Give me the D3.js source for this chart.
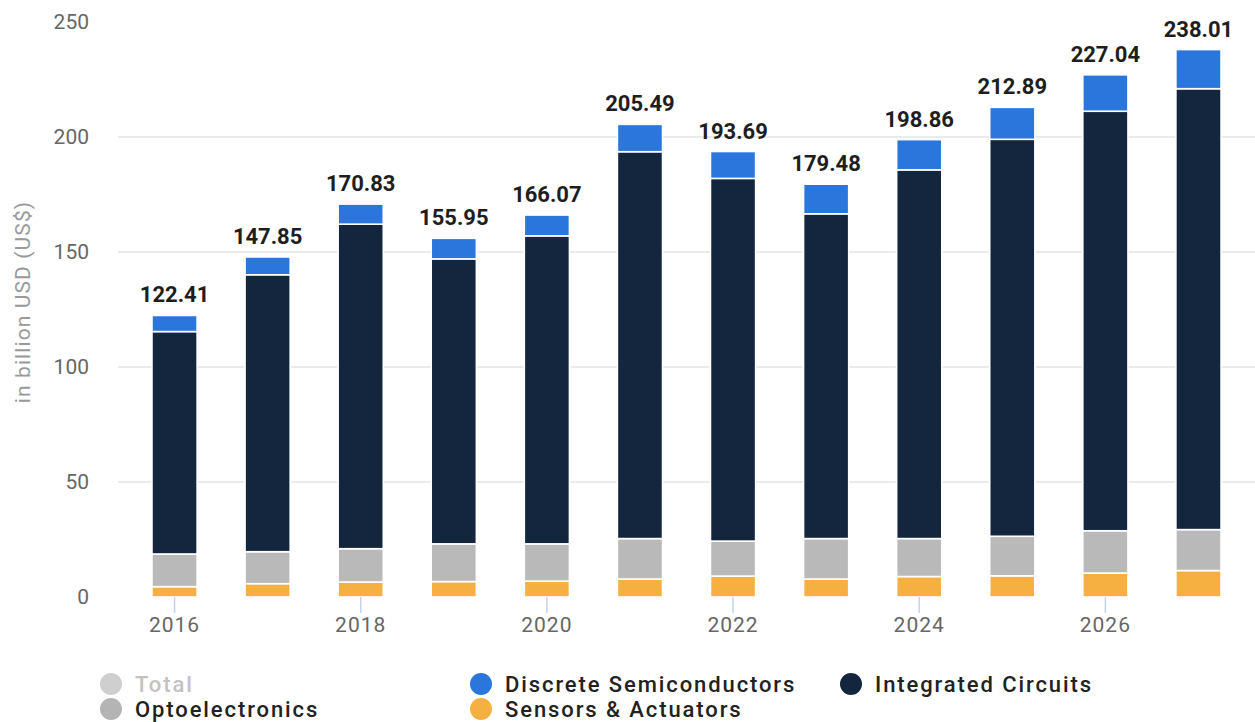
<!DOCTYPE html>
<html>
<head>
<meta charset="utf-8">
<script src="https://cdn.jsdelivr.net/npm/d3@7/dist/d3.min.js"></script>
<style>
  html, body { margin: 0; padding: 0; background: #ffffff; }
  svg { display: block; font-family: Roboto, "Open Sans", sans-serif; }
</style>
</head>
<body>
<svg id="chart" width="1255" height="722"></svg>
<script>
// Semiconductor revenue by segment, in billion USD
const years = ["2016","2017","2018","2019","2020","2021","2022","2023","2024","2025","2026","2027"];
const sensorsActuators = [4.5, 5.8, 6.5, 6.7, 6.9, 7.8, 9.1, 7.8, 8.9, 9.2, 10.4, 11.5];
const optoelectronics  = [14.2, 13.9, 14.5, 16.4, 16.2, 17.6, 15.2, 17.6, 16.5, 17.2, 18.4, 17.8];
const integratedCircuits = [96.7, 120.4, 141.1, 123.9, 133.9, 168.2, 157.7, 141.2, 160.3, 172.6, 182.4, 191.7];
const discreteSemis    = [7.01, 7.75, 8.73, 8.95, 9.07, 11.89, 11.69, 12.88, 13.16, 13.89, 15.84, 17.01];
const totals = [122.41, 147.85, 170.83, 155.95, 166.07, 205.49, 193.69, 179.48, 198.86, 212.89, 227.04, 238.01];
const yTicks = [0, 50, 100, 150, 200, 250];
const xTickLabels = ["2016","2018","2020","2022","2024","2026"];

const seriesKeys = ["sensors", "opto", "ic", "discrete"];
const colors = { sensors: "#f5b041", opto: "#b9b9b9", ic: "#13263d", discrete: "#2a76dc" };

const rows = years.map((yr, i) => ({
  year: yr,
  sensors: sensorsActuators[i],
  opto: optoelectronics[i],
  ic: integratedCircuits[i],
  discrete: discreteSemis[i],
  total: totals[i]
}));

const svg = d3.select("#chart");

const x = d3.scaleBand().domain(years).range([128, 1245]).paddingInner(0.515).paddingOuter(0.2575);
const y = d3.scaleLinear().domain([0, 250]).range([597, 22]);

// horizontal gridlines
svg.append("g").selectAll("line")
  .data(yTicks.filter(t => t > 0 && t < 250))
  .join("line")
  .attr("x1", 118).attr("x2", 1255)
  .attr("y1", d => y(d)).attr("y2", d => y(d))
  .attr("stroke", "#e4e4e4").attr("stroke-width", 1.3);

// y axis labels
const yAxis = d3.axisLeft(y).tickValues(yTicks).tickSize(0).tickPadding(0);
const gy = svg.append("g").attr("transform", "translate(89,0)").call(yAxis);
gy.select(".domain").remove();
gy.selectAll("text")
  .attr("fill", "#666").attr("font-size", 21)
  .attr("font-family", "Roboto, sans-serif");

// y axis title
svg.append("text")
  .attr("transform", "translate(30,302) rotate(-90)")
  .attr("text-anchor", "middle")
  .attr("fill", "#999")
  .attr("font-size", 21)
  .attr("letter-spacing", 1.1)
  .text("in billion USD (US$)");

// stacked bars
const stacked = d3.stack().keys(seriesKeys)(rows);
svg.append("g").selectAll("g")
  .data(stacked)
  .join("g")
  .attr("fill", d => colors[d.key])
  .selectAll("rect")
  .data(d => d)
  .join("rect")
  .attr("x", d => x(d.data.year))
  .attr("width", x.bandwidth())
  .attr("y", d => y(d[1]))
  .attr("height", d => y(d[0]) - y(d[1]))
  .attr("stroke", "#ffffff")
  .attr("stroke-width", 1.6);

// x axis ticks and labels
const xAxis = d3.axisBottom(x).tickValues(xTickLabels).tickSize(16).tickPadding(4);
const gx = svg.append("g").attr("transform", "translate(0,597)").call(xAxis);
gx.select(".domain").remove();
gx.selectAll(".tick line").attr("stroke", "#c5d3ea").attr("stroke-width", 1.5);
gx.selectAll("text")
  .attr("fill", "#666").attr("font-size", 21)
  .attr("letter-spacing", 1)
  .attr("font-family", "Roboto, sans-serif");

// total labels above bars
svg.append("g").selectAll("text")
  .data(rows)
  .join("text")
  .attr("x", d => x(d.year) + x.bandwidth() / 2)
  .attr("y", d => y(d.total) - 13)
  .attr("text-anchor", "middle")
  .attr("fill", "#1e1e1e")
  .attr("font-size", 22)
  .attr("font-weight", "bold")
  .text(d => d.total.toFixed(2));

// legend
const legendItems = [
  { label: "Total", color: "#cfcfcf", text: "#c2c2c2", cx: 111, cy: 684 },
  { label: "Optoelectronics", color: "#b4b4b4", text: "#222", cx: 111, cy: 709 },
  { label: "Discrete Semiconductors", color: colors.discrete, text: "#222", cx: 481, cy: 684 },
  { label: "Sensors & Actuators", color: colors.sensors, text: "#222", cx: 481, cy: 709 },
  { label: "Integrated Circuits", color: colors.ic, text: "#222", cx: 851, cy: 684 }
];
const lg = svg.append("g").selectAll("g").data(legendItems).join("g");
lg.append("circle")
  .attr("cx", d => d.cx).attr("cy", d => d.cy).attr("r", 11)
  .attr("fill", d => d.color);
lg.append("text")
  .attr("x", d => d.cx + 24).attr("y", d => d.cy + 8)
  .attr("fill", d => d.text)
  .attr("font-size", 22)
  .attr("font-weight", 500)
  .attr("letter-spacing", 1.9)
  .text(d => d.label);
</script>
</body>
</html>
